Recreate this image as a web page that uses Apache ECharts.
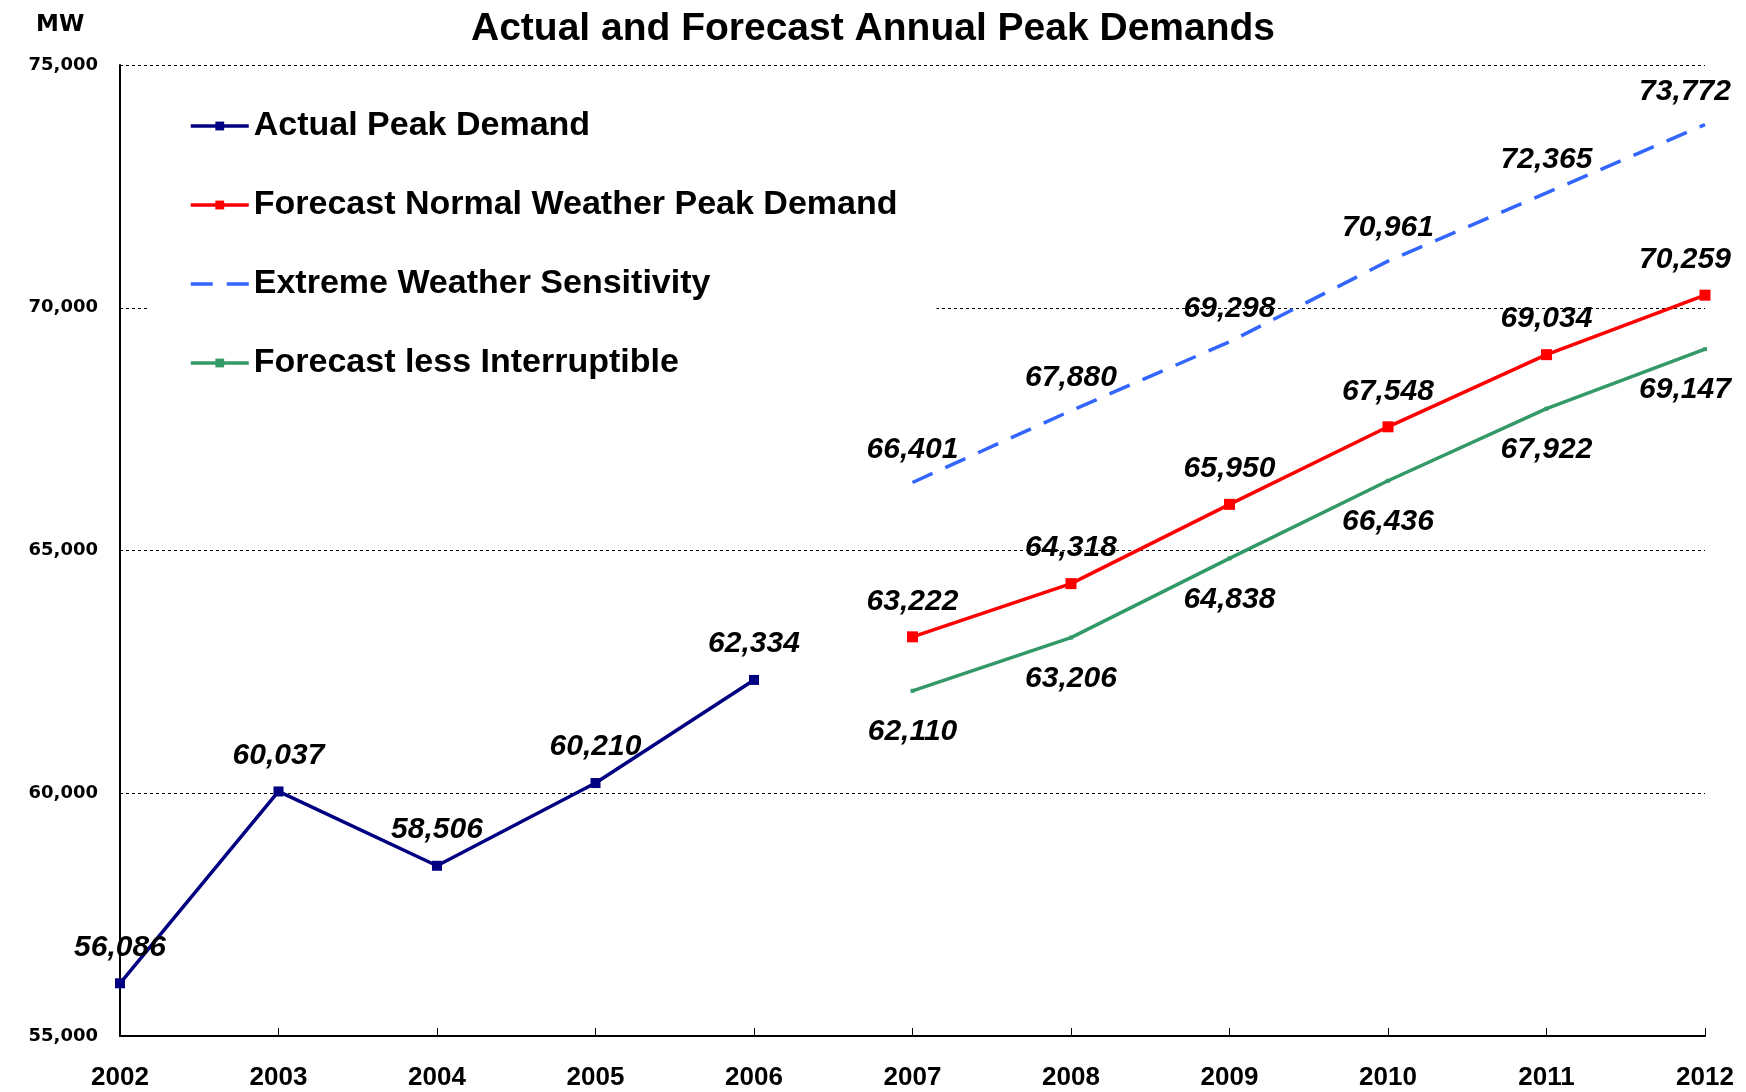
<!DOCTYPE html>
<html>
<head>
<meta charset="utf-8">
<script src="https://cdn.jsdelivr.net/npm/echarts@6/dist/echarts.min.js"></script>
<style>
html, body { margin: 0; padding: 0; background: #fff; }
#main { width: 1746px; height: 1092px; }
</style>
</head>
<body>
<div id="main"></div>
<script>
var years = ['2002', '2003', '2004', '2005', '2006', '2007', '2008', '2009', '2010', '2011', '2012'];
var actualPeak = [56086, 60037, 58506, 60210, 62334, null, null, null, null, null, null];
var forecastNormal = [null, null, null, null, null, 63222, 64318, 65950, 67548, 69034, 70259];
var extremeWeather = [null, null, null, null, null, 66401, 67880, 69298, 70961, 72365, 73772];
var lessInterruptible = [null, null, null, null, null, 62110, 63206, 64838, 66436, 67922, 69147];

var myChart = echarts.init(document.getElementById('main'));

var labelFont = {
  color: '#000',
  fontFamily: 'Liberation Sans',
  fontSize: 30,
  fontWeight: 'bold',
  fontStyle: 'italic'
};

// last point sits on the right edge, nudge its label inward
function withEdgeLabel(values) {
  return values.map(function(v, i) {
    if (i === values.length - 1 && v != null) {
      return { value: v, label: { offset: [-20, 0] } };
    }
    return v;
  });
}

function fmt(p) {
  return echarts.format.addCommas(p.value);
}

myChart.setOption({
  backgroundColor: '#fff',
  animation: false,
  title: [{
    text: 'Actual and Forecast Annual Peak Demands',
    left: 'center',
    top: 5,
    textStyle: { fontFamily: 'Liberation Sans', fontSize: 39, fontWeight: 'bold', color: '#000' }
  }, {
    text: 'MW',
    left: 31,
    top: 9,
    textStyle: { fontFamily: 'DejaVu Sans', fontSize: 23, fontWeight: 'bold', color: '#000' }
  }],
  legend: {
    orient: 'vertical',
    left: 150,
    top: 80,
    padding: [28, 39, 20, 39],
    backgroundColor: '#fff',
    itemWidth: 58,
    itemHeight: 11,
    itemGap: 43,
    lineStyle: { width: 3.5 },
    textStyle: { fontFamily: 'Liberation Sans', fontSize: 34, fontWeight: 'bold', color: '#000', lineHeight: 36 },
    data: ['Actual Peak Demand', 'Forecast Normal Weather Peak Demand', 'Extreme Weather Sensitivity', 'Forecast less Interruptible']
  },
  grid: { left: 120, right: 41, top: 65, bottom: 56 },
  xAxis: {
    type: 'category',
    data: years,
    boundaryGap: false,
    axisLine: { lineStyle: { color: '#000', width: 2 } },
    axisTick: { inside: true, length: 8, lineStyle: { color: '#000', width: 1 } },
    axisLabel: { margin: 29, color: '#000', fontFamily: 'Liberation Sans', fontSize: 26, fontWeight: 'bold' },
    splitLine: { show: false }
  },
  yAxis: {
    type: 'value',
    min: 55000,
    max: 75000,
    interval: 5000,
    axisLine: { show: true, lineStyle: { color: '#000', width: 2 } },
    axisTick: { show: false },
    axisLabel: {
      margin: 22,
      color: '#000',
      fontFamily: 'DejaVu Sans',
      fontSize: 18,
      fontWeight: 'bold',
      formatter: function(v) { return echarts.format.addCommas(v); }
    },
    splitLine: { show: true, lineStyle: { color: '#000', width: 1, type: [3, 3] } }
  },
  series: [{
    name: 'Actual Peak Demand',
    type: 'line',
    data: actualPeak,
    symbol: 'rect',
    symbolSize: 10,
    color: '#000080',
    lineStyle: { color: '#000080', width: 3.5 },
    label: Object.assign({ show: true, position: 'top', distance: 16, formatter: fmt }, labelFont)
  }, {
    name: 'Forecast Normal Weather Peak Demand',
    type: 'line',
    data: withEdgeLabel(forecastNormal),
    symbol: 'rect',
    symbolSize: 11,
    color: '#ff0000',
    lineStyle: { color: '#ff0000', width: 3.5 },
    label: Object.assign({ show: true, position: 'top', distance: 15, formatter: fmt }, labelFont)
  }, {
    name: 'Extreme Weather Sensitivity',
    type: 'line',
    data: withEdgeLabel(extremeWeather),
    symbol: 'circle',
    symbolSize: 4,
    itemStyle: { color: 'rgba(0,0,0,0)', borderWidth: 0 },
    color: '#3366ff',
    lineStyle: { color: '#3366ff', width: 3.5, type: [22, 14] },
    label: Object.assign({ show: true, position: 'top', distance: 16, formatter: fmt }, labelFont)
  }, {
    name: 'Forecast less Interruptible',
    type: 'line',
    data: withEdgeLabel(lessInterruptible),
    symbol: 'rect',
    symbolSize: 4,
    color: '#339966',
    lineStyle: { color: '#339966', width: 3.5 },
    label: Object.assign({ show: true, position: 'bottom', distance: 24, formatter: fmt }, labelFont)
  }]
});
</script>
</body>
</html>
